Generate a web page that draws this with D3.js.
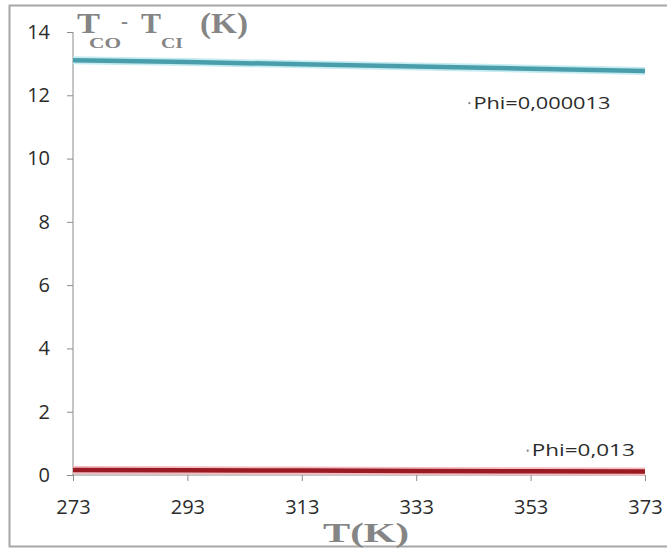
<!DOCTYPE html>
<html>
<head>
<meta charset="utf-8">
<script src="https://cdn.jsdelivr.net/npm/d3@7"></script>
<style>
  body { margin: 0; background: white; overflow: hidden; }
  svg { display: block; }
</style>
</head>
<body>
<script>
// data
var temps = [273, 293, 313, 333, 353, 373];
var phiSmall = [13.11, 13.05, 12.98, 12.91, 12.84, 12.77];   // Phi=0,000013
var phiLarge = [0.16, 0.15, 0.14, 0.13, 0.12, 0.11];         // Phi=0,013
var yTicks = [0, 2, 4, 6, 8, 10, 12, 14];
var seriesNames = ["Phi=0,000013", "Phi=0,013"];

var W = 667, H = 550;
var margin = {top: 32, right: 22, bottom: 75, left: 73},
    width = W - margin.left - margin.right,
    height = H - margin.top - margin.bottom;

var svg = d3.select("body")
  .append("svg")
    .attr("width", W)
    .attr("height", H);

// outer chart frame (right edge runs off the picture)
svg.append("rect")
  .attr("x", 9.5).attr("y", 5.5)
  .attr("width", 700).attr("height", 541)
  .attr("fill", "white")
  .attr("stroke", "#a6a6a6")
  .attr("stroke-width", 2);

var g = svg.append("g")
  .attr("transform", "translate(" + margin.left + "," + margin.top + ")");

var x = d3.scaleLinear().domain([273, 373]).range([0, width]);
var y = d3.scaleLinear().domain([0, 14]).range([height, 0]);

var yAxis = g.append("g")
  .call(d3.axisLeft(y).tickValues(yTicks).tickSize(6).tickPadding(17));
var xAxis = g.append("g")
  .attr("transform", "translate(0," + height + ")")
  .call(d3.axisBottom(x).tickValues(temps).tickSize(6).tickPadding(19));

[yAxis, xAxis].forEach(function(a) {
  a.select(".domain").attr("stroke", "#8c8c8c");
  a.selectAll(".tick line").attr("stroke", "#8c8c8c");
  a.selectAll("text")
    .style("font-family", "'Open Sans', sans-serif")
    .style("font-size", "20px")
    .attr("fill", "#2b2b2b");
});
xAxis.select(".domain").attr("d", "M0,0H" + width);
yAxis.select(".domain").attr("d", "M0,0V" + height);

var line = d3.line()
  .x(function(d) { return x(d[0]); })
  .y(function(d) { return y(d[1]); });

var series = [
  {name: seriesNames[0], vals: phiSmall, color: "#4a9eab", glow: "#c4ecf1"},
  {name: seriesNames[1], vals: phiLarge, color: "#9a1b24", glow: "#f4bcc0"}
];

series.forEach(function(s) {
  var pts = temps.map(function(t, i) { return [t, s.vals[i]]; });
  g.append("path")
    .datum(pts)
    .attr("fill", "none")
    .attr("stroke", s.glow)
    .attr("stroke-width", 8)
    .attr("d", line);
  g.append("path")
    .datum(pts)
    .attr("fill", "none")
    .attr("stroke", s.color)
    .attr("stroke-width", 4.5)
    .attr("d", line);
});

// series labels
var labelPos = [[342.3, 11.75], [352.5, 0.77]];
var labelLen = [137, 103];
series.forEach(function(s, i) {
  var lx = x(labelPos[i][0]), ly = y(labelPos[i][1]);
  g.append("circle")
    .attr("cx", lx).attr("cy", ly)
    .attr("r", 1.1)
    .attr("fill", "#7f7f7f");
  g.append("text")
    .attr("x", lx + 4).attr("y", ly)
    .attr("dy", "0.36em")
    .attr("textLength", labelLen[i])
    .attr("lengthAdjust", "spacingAndGlyphs")
    .style("font-family", "'Open Sans', sans-serif")
    .style("font-size", "16px")
    .attr("fill", "#2b2b2b")
    .text(s.name);
});

// axis titles (serif, bold, gray)
var titleParts = [
  {t: "T",   x: 77,  y: 33, size: 30, len: 23},
  {t: "CO",  x: 89,  y: 48, size: 15, len: 32},
  {t: "-",   x: 121, y: 28, size: 22, len: 7},
  {t: "T",   x: 141, y: 33, size: 30, len: 20},
  {t: "CI",  x: 161, y: 48, size: 15, len: 22},
  {t: "(K)", x: 200, y: 33, size: 30, len: 48}
];
svg.selectAll("text.title")
  .data(titleParts)
  .enter()
  .append("text")
    .attr("class", "title")
    .attr("x", function(d) { return d.x; })
    .attr("y", function(d) { return d.y; })
    .attr("textLength", function(d) { return d.len; })
    .attr("lengthAdjust", "spacingAndGlyphs")
    .style("font-family", "'Liberation Serif', serif")
    .style("font-weight", "bold")
    .style("font-size", function(d) { return d.size + "px"; })
    .attr("fill", "#858585")
    .text(function(d) { return d.t; });

svg.append("text")
  .attr("x", 323).attr("y", 542)
  .attr("textLength", 86)
  .attr("lengthAdjust", "spacingAndGlyphs")
  .style("font-family", "'Liberation Serif', serif")
  .style("font-weight", "bold")
  .style("font-size", "28px")
  .attr("fill", "#858585")
  .text("T(K)");
</script>
</body>
</html>
